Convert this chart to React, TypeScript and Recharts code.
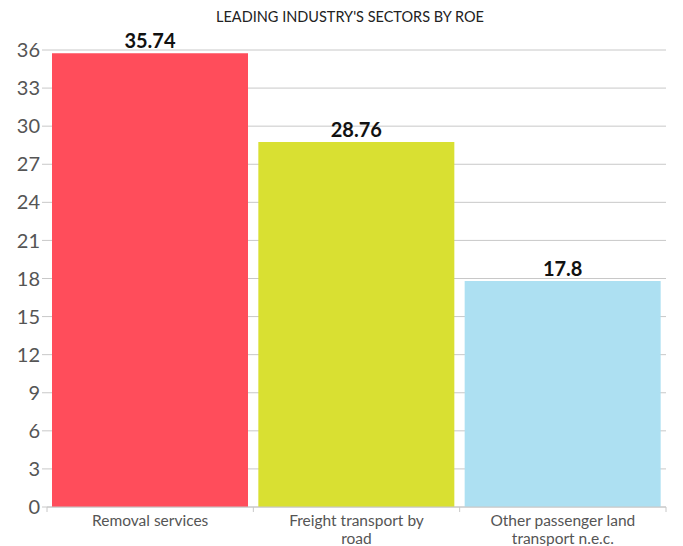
import { BarChart, Bar, XAxis, YAxis, CartesianGrid, LabelList, Cell } from 'recharts'

const categories = ['Removal services', 'Freight transport by road', 'Other passenger land transport n.e.c.']
const tickLines = [['Removal services'], ['Freight transport by', 'road'], ['Other passenger land', 'transport n.e.c.']]
const roe = [35.74, 28.76, 17.8]
const barColors = ['#FF4D5B', '#D9E032', '#ADE0F2']
const yTicks = [0, 3, 6, 9, 12, 15, 18, 21, 24, 27, 30, 33, 36]

const data = categories.map((name, i) => ({ name, roe: roe[i] }))

const W = 683
const H = 546
const LEFT = 47
const RIGHT = 17
const band = (W - LEFT - RIGHT) / categories.length

function CategoryTick(props: any) {
  const { x, y, index } = props
  const lines = tickLines[index] || []
  return (
    <g>
      <line x1={x - band / 2} y1={y - 8} x2={x - band / 2} y2={y - 3} stroke="#c8c8c8" />
      {index === categories.length - 1 && (
        <line x1={x + band / 2} y1={y - 8} x2={x + band / 2} y2={y - 3} stroke="#c8c8c8" />
      )}
      {lines.map((l, i) => (
        <text
          key={i}
          x={x}
          y={y + 11 + i * 18}
          textAnchor="middle"
          fill="#555"
          fontSize={15.5}
          fontFamily="Lato"
        >
          {l}
        </text>
      ))}
    </g>
  )
}

export default function App() {
  return (
    <div style={{ position: 'absolute', left: 0, top: 0, width: W, height: H, background: '#fff' }}>
      <div
        style={{
          position: 'absolute',
          top: 8,
          left: 0,
          width: 700,
          textAlign: 'center',
          fontFamily: 'Lato',
          fontSize: 14.5,
          color: '#222',
        }}
      >
        LEADING INDUSTRY'S SECTORS BY ROE
      </div>
      <BarChart
        width={W}
        height={H}
        data={data}
        margin={{ top: 50, right: RIGHT, bottom: 0, left: 0 }}
        barCategoryGap={5}
      >
        <CartesianGrid vertical={false} stroke="#c8c8c8" />
        <XAxis
          dataKey="name"
          stroke="#c8c8c8"
          tickLine={false}
          tick={<CategoryTick />}
          interval={0}
          height={39}
        />
        <YAxis
          width={LEFT}
          domain={[0, 36]}
          ticks={yTicks}
          axisLine={false}
          tickLine={{ stroke: '#c8c8c8' }}
          tickSize={5}
          tick={{ fill: '#555', fontSize: 20, fontFamily: 'Lato' }}
          interval={0}
        />
        <Bar dataKey="roe" isAnimationActive={false}>
          {data.map((d, i) => (
            <Cell key={d.name} fill={barColors[i]} />
          ))}
          <LabelList
            dataKey="roe"
            position="top"
            fill="#111"
            fontSize={20}
            fontWeight="bold"
            fontFamily="Lato"
          />
        </Bar>
      </BarChart>
    </div>
  )
}
